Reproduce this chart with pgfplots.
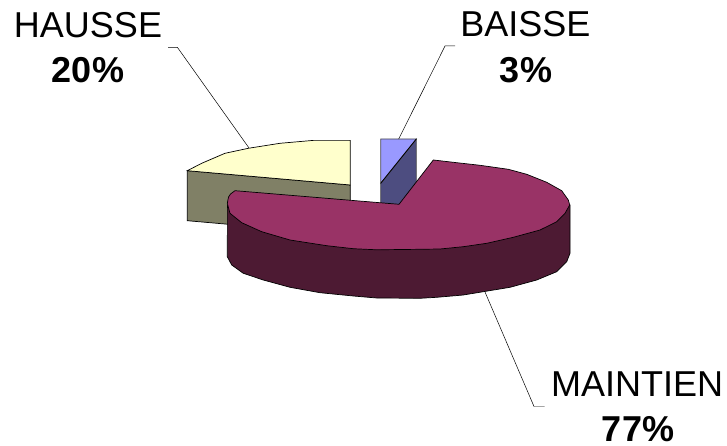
\documentclass[border=0pt]{standalone}
\usepackage{pgfplots}
\pgfplotsset{compat=1.18}
\usepackage{fontspec}
\setmainfont{Liberation Sans}
\definecolor{hautop}{HTML}{FFFFCC}
\definecolor{hauside}{HTML}{808066}
\definecolor{baitop}{HTML}{9999FF}
\definecolor{baiside}{HTML}{4D4D80}
\definecolor{maitop}{HTML}{993366}
\definecolor{maiside}{HTML}{4D1A33}
\begin{document}
\begin{tikzpicture}[x=1bp,y=1bp]
\path[use as bounding box] (0,0) rectangle (727,446);
\begin{axis}[at={(0,0)},anchor=south west,scale only axis,width=727bp,height=446bp,
  xmin=0,xmax=727,ymin=0,ymax=446,y dir=reverse,hide axis,clip=false]
% HAUSSE slice
\addplot[draw=black,line width=0.7pt,fill=hauside] coordinates {(187.3,170.7)(350.3,185)(350.3,235)(187.3,220.7)} -- cycle;
\addplot[draw=black,line width=0.7pt,fill=hautop] coordinates {(350.3,185)(350.3,140.4)(313.3,140.4)(280,143.3)(248.3,148.3)(225,153.3)(201.7,163.3)(187.3,170.7)} -- cycle;
% BAISSE slice
\addplot[draw=black!70,line width=0.7pt,fill=baiside] coordinates {(380.7,183.3)(416.3,139)(416.3,182)(399.3,204.7)(380.7,203)} -- cycle;
\addplot[draw=black!70,line width=0.7pt,fill=baitop] coordinates {(380.7,183.3)(380.7,139)(416.3,139)} -- cycle;
\addplot[draw=black,line width=0.8pt] coordinates {(380.7,183.3)(416.3,139)};
% MAINTIEN slice
\addplot[draw=black,line width=0.7pt,fill=maiside] coordinates {(227.4,205)(227.3,256.7)(231.7,265)(243.3,273.3)(263.3,280)(290,287.3)(320,292.7)(353.3,296)(376.7,298)(420,298.3)(436.7,297.3)(463.3,295)(483.3,291.7)(510,287.3)(536.7,280)(556.7,271.7)(566.7,261.7)(570,253.3)(570,205)} -- cycle;
\addplot[draw=black,line width=0.7pt,fill=maitop] coordinates {(399,204.3)(433.3,160)(456.7,162.7)(480,165.3)(508.3,169.3)(526.7,174.3)(546.7,182.3)(561.7,190.7)(568.3,200)(569.7,205)(565,213.3)(556.7,221.7)(540,230)(513.3,237.3)(486.7,243.3)(463.3,246.7)(440,249)(420,249.3)(376.7,249.8)(353.3,248.7)(326.7,245.7)(290,240)(261.7,231.7)(241.7,222.7)(230,213.3)(227.3,203.3)(228.5,197)(230.5,194)(235,190.7)} -- cycle;
% Leader lines
\addplot[draw=black,line width=0.5pt] coordinates {(168,47.5)(177.5,47.5)(249,148)};
\addplot[draw=black,line width=0.5pt] coordinates {(455,46)(445,46)(398.7,139)};
\addplot[draw=black,line width=0.5pt] coordinates {(485,292)(534,406.5)(544.5,406.5)};
% Labels
\node[anchor=base,inner sep=0pt,font=\fontsize{36bp}{40bp}\selectfont] at (axis cs:88,38) {HAUSSE};
\node[anchor=base,inner sep=0pt,font=\fontsize{36bp}{40bp}\selectfont\bfseries] at (axis cs:88,83) {20\%};
\node[anchor=base,inner sep=0pt,font=\fontsize{36bp}{40bp}\selectfont] at (axis cs:525.3,37) {BAISSE};
\node[anchor=base,inner sep=0pt,font=\fontsize{36bp}{40bp}\selectfont\bfseries] at (axis cs:526,83) {3\%};
\node[anchor=base,inner sep=0pt,font=\fontsize{36bp}{40bp}\selectfont] at (axis cs:637,396.7) {MAINTIEN};
\node[anchor=base,inner sep=0pt,font=\fontsize{36bp}{40bp}\selectfont\bfseries] at (axis cs:638,441) {77\%};
\end{axis}
\end{tikzpicture}
\end{document}
